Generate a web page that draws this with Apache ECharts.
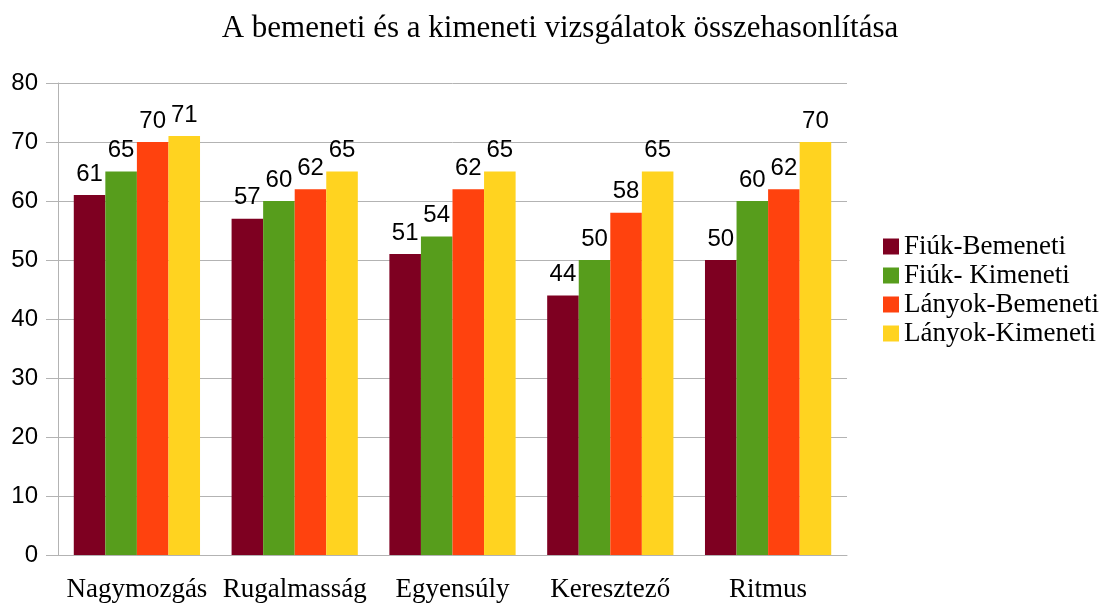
<!DOCTYPE html>
<html>
<head>
<meta charset="utf-8">
<script src="https://cdn.jsdelivr.net/npm/echarts@6/dist/echarts.min.js"></script>
<style>
    html, body { margin: 0; padding: 0; background: #fff; }
    #main { width: 1099px; height: 603px; }
</style>
</head>
<body>
<div id="main"></div>
<script>
var categories = ["Nagymozgás", "Rugalmasság", "Egyensúly", "Keresztező", "Ritmus"];
var seriesNames = ["Fiúk-Bemeneti", "Fiúk- Kimeneti", "Lányok-Bemeneti", "Lányok-Kimeneti"];
var fiukBe = [61, 57, 51, 44, 50];
var fiukKi = [65, 60, 54, 50, 60];
var lanyokBe = [70, 62, 62, 58, 62];
var lanyokKi = [71, 65, 65, 65, 70];
var colors = ["#7e0021", "#579d1c", "#ff420e", "#ffd320"];

var chart = echarts.init(document.getElementById("main"));
var allData = [fiukBe, fiukKi, lanyokBe, lanyokKi];
var series = [];
for (var i = 0; i < allData.length; i++) {
    series.push({
        name: seriesNames[i],
        type: "bar",
        data: allData[i],
        barGap: "0%",
        barCategoryGap: "20%",
        itemStyle: { color: colors[i] },
        label: {
            show: true,
            position: "top",
            distance: 9,
            fontFamily: "Liberation Sans",
            fontSize: 24,
            color: "#000"
        }
    });
}
chart.setOption({
    animation: false,
    title: {
        text: "A bemeneti és a kimeneti vizsgálatok összehasonlítása",
        left: 555,
        top: 8,
        textAlign: "center",
        textStyle: { fontFamily: "Liberation Serif", fontSize: 31, fontWeight: "normal", color: "#000" }
    },
    legend: {
        orient: "vertical",
        left: 878,
        top: 228,
        itemWidth: 16,
        itemHeight: 16,
        itemGap: 2,
        icon: "rect",
        textStyle: { fontFamily: "Liberation Serif", fontSize: 27, color: "#000" }
    },
    grid: { left: 58, right: 252, top: 83, bottom: 47 },
    xAxis: {
        type: "category",
        data: categories,
        axisLine: { lineStyle: { color: "#b3b3b3" } },
        axisTick: { length: 10, lineStyle: { color: "#b3b3b3" } },
        axisLabel: { interval: 0, fontFamily: "Liberation Serif", fontSize: 27, color: "#000", margin: 21 }
    },
    yAxis: {
        type: "value",
        min: 0,
        max: 80,
        interval: 10,
        axisLine: { show: true, lineStyle: { color: "#b3b3b3" } },
        axisTick: { show: true, length: 12, lineStyle: { color: "#b3b3b3" } },
        splitLine: { lineStyle: { color: "#b3b3b3" } },
        axisLabel: { fontFamily: "Liberation Sans", fontSize: 24, color: "#000", margin: 20 }
    },
    series: series
});
</script>
</body>
</html>
